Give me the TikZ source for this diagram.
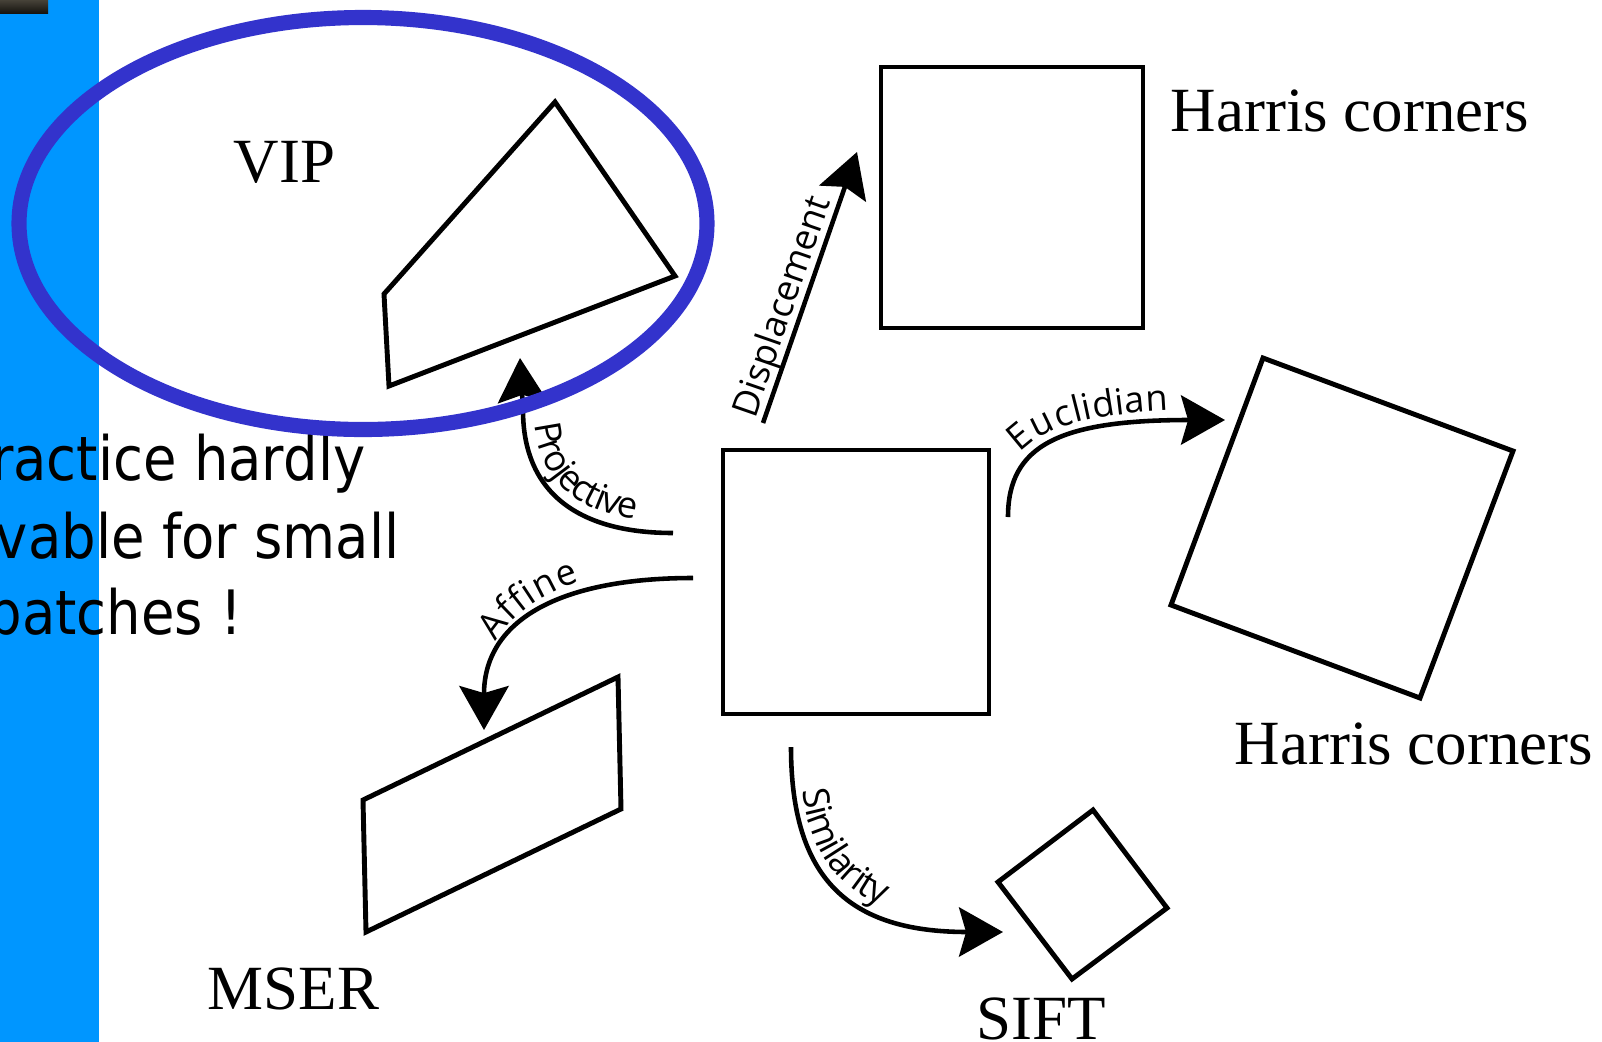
\documentclass[tikz,border=0pt]{standalone}
\usepackage{fontspec}
\setmainfont{Liberation Serif}
\newfontfamily\slidefont[FakeStretch=0.89]{DejaVu Sans}
\newfontfamily\lblfont{Open Sans}
\usetikzlibrary{arrows.meta,decorations.text}
\definecolor{barblue}{RGB}{0,150,255}
\definecolor{ringblue}{RGB}{51,51,204}
\newcommand\lblf{\lblfont\fontsize{10.3pt}{12pt}\selectfont}
\tikzset{
  patch/.style={draw=black, line width=1.4pt, line join=miter},
  xform/.style={draw=black, line width=1.3pt,
    -{Stealth[length=12.5pt,width=14pt,inset=2pt]}},
  serifname/.style={font=\fontsize{17.9pt}{20pt}\selectfont, inner sep=0pt, anchor=base west},
  slidetext/.style={font=\slidefont\fontsize{17.4pt}{21pt}\selectfont, inner sep=0pt, anchor=base east},
}
\begin{document}
\begin{tikzpicture}[x=0.01cm, y=-0.01cm]
\useasboundingbox (0,0) rectangle (1602,1042);
\clip (0,0) rectangle (1602,1042);
\fill[white] (0,0) rectangle (1602,1042);

% slide margin bar and the corner picture fragment
\fill[barblue] (0,0) rectangle (99,1042);
\shade[top color={rgb,255:red,70;green,66;blue,56}, bottom color={rgb,255:red,22;green,20;blue,16}] (0,0) rectangle (48,13);

% slide remark
\node[slidetext] (r1) at (366,480) {ractice hardly};
\node[slidetext] (r2) at (400,558) {vable for small};
\node[slidetext] (r3) at (243,634) {patches !};

% reference patch and its transformed copies
\draw[patch] (723,450) rectangle (989,714);
\draw[patch] (881,67) rectangle (1143,328);
\draw[patch] (1263,358) -- (1513,451) -- (1420,698) -- (1171,605) -- cycle;
\draw[patch] (1093,810) -- (1167,908) -- (1072,979) -- (998,882) -- cycle;
\draw[patch] (618,677) -- (621,809) -- (366,932) -- (363,800) -- cycle;
\draw[patch] (555,102) -- (675,276) -- (389,386) -- (384,294) -- cycle;

% detector names
\node[serifname] (vip) at (233,182) {VIP};
\node[serifname] (harris1) at (1170,131) {Harris corners};
\node[serifname] (harris2) at (1234,764) {Harris corners};
\node[serifname] (mser) at (207,1009) {MSER};
\node[serifname] (sift) at (976,1039) {SIFT};

% transformation arrows
\coordinate (dispS) at (763,423);  \coordinate (dispE) at (857,152);
\coordinate (projS) at (673,533);  \coordinate (projE) at (520,358);
\coordinate (eucS)  at (1008,517); \coordinate (eucE)  at (1225,420);
\coordinate (affS)  at (693,578);  \coordinate (affE)  at (484,730);
\coordinate (simS)  at (791,747);  \coordinate (simE)  at (1003,932);

\draw[xform] (dispS) -- (dispE);
\path[decorate, decoration={text along path, raise=2.5pt,
  text align={left indent=0.01cm}, text={|\lblf|Displacement}}] (dispS) -- (dispE);

\draw[xform] (projS) .. controls (575,533) and (523,490) .. (523,410) -- (projE);
\path[decorate, decoration={text along path, raise=3.2pt,
  text align={left indent=0.68cm}, text={|\lblf|Projective}}]
  (projE) -- (523,410) .. controls (523,490) and (575,533) .. (projS);

\draw[xform] (eucS) .. controls (1008,445) and (1060,420) .. (eucE);
\path[decorate, decoration={text along path, raise=3pt,
  text align={left indent=0.6cm}, text={|\lblf|Euclidian}}]
  (eucS) .. controls (1008,445) and (1060,420) .. (eucE);

\draw[xform] (affS) .. controls (560,578) and (484,620) .. (affE);
\path[decorate, decoration={text along path, raise=3pt,
  text align={left indent=0.85cm}, text={|\lblf|Affine}}]
  (affE) .. controls (484,620) and (560,578) .. (affS);

\draw[xform] (simS) .. controls (791,880) and (850,932) .. (simE);
\path[decorate, decoration={text along path, raise=2.5pt,
  text align={left indent=0.45cm}, text={|\lblf|Similarity}}]
  (simS) .. controls (791,880) and (850,932) .. (simE);

% highlight ring
\draw[ringblue, line width=4.3pt] (363,223.5) ellipse [x radius=344, y radius=206];
\end{tikzpicture}
\end{document}
